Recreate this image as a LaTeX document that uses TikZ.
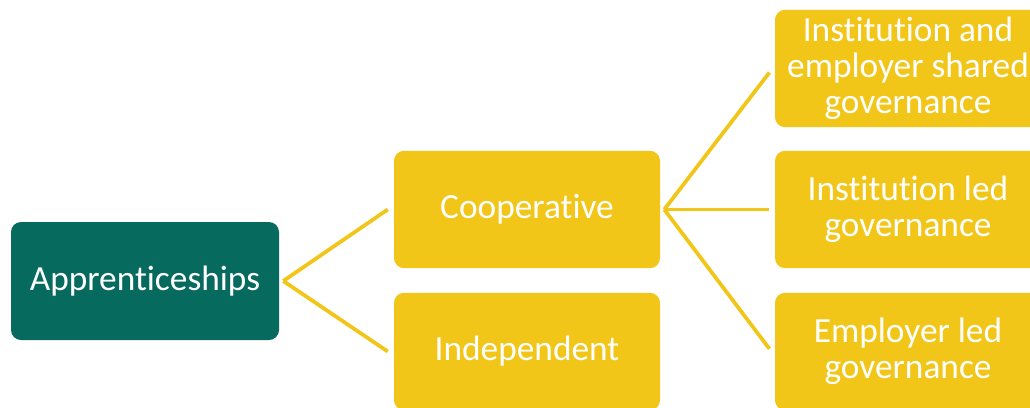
\documentclass[tikz,border=0pt]{standalone}
\usepackage{fontspec}
\setmainfont{Carlito}[Ligatures={NoCommon,NoRare}]
\definecolor{teal1}{HTML}{066A5F}
\definecolor{gold1}{HTML}{F2C619}
\begin{document}
\begin{tikzpicture}[x=0.75pt,y=-0.75pt,
  box/.style={rounded corners=7.5pt,inner sep=0pt,align=center,text=white,
    font=\fontsize{26.5pt}{27pt}\selectfont,minimum width=199.5pt,minimum height=88pt},
  tealbox/.style={box,fill=teal1,minimum width=201pt,minimum height=88.5pt},
  goldbox/.style={box,fill=gold1},
  link/.style={draw=gold1,line width=2.8pt}]
\useasboundingbox (0,0) rectangle (1030,407);
\clip (0,0) rectangle (1030,407);
\fill[white] (0,0) rectangle (1030,407);
\node[tealbox] (app) at (145,281) {Apprenticeships};
\node[goldbox] (coop) at (527,209.5) {Cooperative};
\node[goldbox] (ind) at (527,351.5) {Independent};
\node[goldbox] (shared) at (908,68.5) {Institution and\\employer shared\\governance};
\node[goldbox] (inst) at (908,209.5) {Institution led\\governance};
\node[goldbox] (emp) at (908,351.5) {Employer led\\governance};
\draw[link] ([xshift=3pt]app.east) -- ([xshift=-4.5pt]coop.west);
\draw[link] ([xshift=3pt]app.east) -- ([xshift=-4.5pt]ind.west);
\draw[link] ([xshift=3pt]coop.east) -- ([xshift=-4pt,yshift=-3pt]shared.west);
\draw[link] ([xshift=3pt]coop.east) -- ([xshift=-4pt]inst.west);
\draw[link] ([xshift=3pt]coop.east) -- ([xshift=-4pt,yshift=2pt]emp.west);
\end{tikzpicture}
\end{document}
